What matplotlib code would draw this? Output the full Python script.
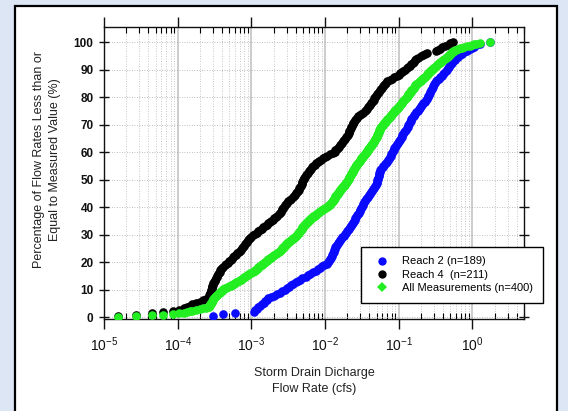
import matplotlib
matplotlib.use('Agg')
import matplotlib.pyplot as plt
import numpy as np
from matplotlib.lines import Line2D
from matplotlib.patches import Rectangle
from matplotlib.ticker import LogLocator, NullFormatter, LogFormatterSciNotation

plt.rcParams['font.family'] = ['Liberation Sans', 'DejaVu Sans']
plt.rcParams['mathtext.fontset'] = 'custom'
plt.rcParams['mathtext.rm'] = 'Liberation Sans:bold'
plt.rcParams['mathtext.it'] = 'Liberation Sans:bold'
plt.rcParams['mathtext.bf'] = 'Liberation Sans:bold'

# log10 of storm drain discharge (cfs), sorted, one value per measurement
reach2_logq = [
    -3.52, -3.38, -3.22, -2.97, -2.95, -2.93, -2.91, -2.88, -2.85, -2.83, -2.81, -2.79, -2.77,
    -2.73, -2.69, -2.65, -2.61, -2.58, -2.55, -2.52, -2.49, -2.46, -2.43, -2.40,
    -2.37, -2.34, -2.31, -2.26, -2.23, -2.21, -2.17, -2.13, -2.10,
    -2.07, -2.04, -2.01, -1.98, -1.96, -1.945, -1.93,
    -1.92, -1.91, -1.90, -1.89, -1.885, -1.88, -1.87,
    -1.86, -1.85, -1.84, -1.83, -1.815, -1.80,
    -1.78, -1.765, -1.75, -1.73, -1.71,
    -1.70, -1.69, -1.675, -1.66, -1.645, -1.63, -1.62,
    -1.61, -1.60, -1.59, -1.58, -1.565, -1.55,
    -1.54, -1.53, -1.52, -1.51, -1.50, -1.49, -1.48,
    -1.47, -1.455, -1.44, -1.43, -1.415, -1.40, -1.39,
    -1.38, -1.365, -1.35, -1.34, -1.325, -1.31, -1.30,
    -1.295, -1.29, -1.285, -1.28, -1.275, -1.27, -1.265, -1.26, -1.255,
    -1.24, -1.22, -1.21, -1.19, -1.18, -1.16, -1.15, -1.135, -1.12,
    -1.11, -1.10, -1.09, -1.08, -1.07, -1.06, -1.05, -1.04, -1.03, -1.01, -1.00, -0.98,
    -0.97, -0.96, -0.95, -0.94, -0.925, -0.91, -0.90, -0.89, -0.88, -0.87, -0.86, -0.85,
    -0.84, -0.83, -0.815, -0.80,
    -0.79, -0.775, -0.76, -0.745, -0.73, -0.71,
    -0.70, -0.685, -0.67, -0.65, -0.635, -0.62,
    -0.61, -0.60, -0.59, -0.58, -0.57, -0.56, -0.55, -0.54, -0.53,
    -0.52, -0.505, -0.49, -0.475, -0.46, -0.44,
    -0.42, -0.40, -0.38, -0.36, -0.35,
    -0.33, -0.32, -0.30, -0.29, -0.275, -0.26,
    -0.24, -0.22, -0.20, -0.17, -0.14, -0.11, -0.08,
    -0.04, -0.01, 0.02, 0.05, 0.10, 0.24,
]

reach4_logq = [
    -4.81, -4.56, -4.35, -4.20, -4.06, -3.98, -3.92, -3.87, -3.83, -3.80,
    -3.75, -3.70, -3.66, -3.61, -3.58,
    -3.575, -3.57, -3.565, -3.56, -3.55, -3.545,
    -3.54, -3.535, -3.53, -3.525, -3.52,
    -3.51, -3.50, -3.49, -3.48, -3.47,
    -3.46, -3.45, -3.44, -3.43, -3.42, -3.41, -3.395, -3.38,
    -3.36, -3.34, -3.32, -3.30, -3.28, -3.265, -3.25,
    -3.23, -3.21, -3.19, -3.17, -3.16, -3.14, -3.125, -3.11,
    -3.10, -3.085, -3.07, -3.06, -3.045, -3.03, -3.02,
    -3.00, -2.975, -2.95, -2.93,
    -2.91, -2.885, -2.86, -2.84, -2.815, -2.79,
    -2.77, -2.75, -2.73, -2.71, -2.69, -2.67, -2.65, -2.63, -2.61,
    -2.60, -2.59, -2.58, -2.57, -2.56, -2.545, -2.53, -2.52,
    -2.50, -2.48, -2.46, -2.44, -2.42, -2.405, -2.39,
    -2.38, -2.37, -2.36, -2.35, -2.34, -2.33, -2.32, -2.315, -2.31, -2.30,
    -2.29, -2.28, -2.27, -2.26, -2.25, -2.235, -2.22,
    -2.21, -2.195, -2.18, -2.16,
    -2.14, -2.12, -2.10, -2.08,
    -2.06, -2.03, -2.00, -1.97, -1.93, -1.89,
    -1.87, -1.86, -1.84, -1.83, -1.815, -1.80,
    -1.79, -1.775, -1.76, -1.745, -1.73, -1.71,
    -1.70, -1.69, -1.68, -1.675, -1.67, -1.66, -1.65, -1.645, -1.635, -1.625, -1.62,
    -1.61, -1.595, -1.58, -1.565, -1.55,
    -1.53, -1.51, -1.49, -1.465, -1.44,
    -1.43, -1.415, -1.40, -1.39, -1.375, -1.36, -1.35,
    -1.34, -1.33, -1.32, -1.31, -1.30, -1.285, -1.27, -1.26,
    -1.245, -1.23, -1.215, -1.20, -1.185, -1.17, -1.16,
    -1.12, -1.09, -1.07,
    -1.03, -1.00, -0.98,
    -0.96, -0.94, -0.915, -0.89, -0.87, -0.85,
    -0.83, -0.81, -0.80, -0.78, -0.77,
    -0.74, -0.70, -0.67,
    -0.64, -0.62, -0.50,
    -0.47, -0.44, -0.41,
    -0.37, -0.33, -0.30, -0.26,
]

series_labels = ['Reach 2 (n=189)', 'Reach 4  (n=211)', 'All Measurements (n=400)']
y_ticks = list(range(0, 101, 10))

q2 = np.sort(10 ** np.array(reach2_logq))
q4 = np.sort(10 ** np.array(reach4_logq))
q_all = np.sort(np.concatenate([q2, q4]))


def cum_pct(q):
    # percent of measurements less than or equal to each value
    return np.arange(1, len(q) + 1) / len(q) * 100


W, H = 568, 411
fig = plt.figure(figsize=(W / 100, H / 100), dpi=100)
fig.patch.set_facecolor('#dce6f4')

# white panel with black border
fig.add_artist(Rectangle((15 / W, -0.05), (557 - 15) / W, 1 - 6 / H + 0.05,
                         transform=fig.transFigure, fc='white', ec='black', lw=1.6, zorder=-5))

ax = fig.add_axes([104 / W, 1 - 318.5 / H, 420 / W, (318.5 - 27) / H])

ms = 6.2
ax.plot(q2, cum_pct(q2), 'o', color='#0a0aff', ms=ms, mew=0, zorder=3)
ax.plot(q4, cum_pct(q4), 'o', color='black', ms=ms, mew=0, zorder=4)
ax.plot(q_all, cum_pct(q_all), 'o', color='#22ee22', ms=ms, mew=0, zorder=5)

ax.set_xscale('log')
ax.set_xlim(1e-5, 5)
ax.set_ylim(-0.4, 105.5)
ax.set_yticks(y_ticks)
ax.xaxis.set_major_locator(LogLocator(base=10, numticks=10))
ax.xaxis.set_minor_locator(LogLocator(base=10, subs=np.arange(2, 10), numticks=20))
ax.xaxis.set_major_formatter(LogFormatterSciNotation())
ax.xaxis.set_minor_formatter(NullFormatter())

ax.grid(which='major', axis='x', color='#c8c8c8', lw=1.3, ls='-', zorder=0)
ax.grid(which='minor', axis='x', color='#b4b4b4', lw=0.6, ls=(0, (1, 2)), zorder=0)
ax.grid(which='major', axis='y', color='#a8a8a8', lw=0.6, ls=(0, (1, 2)), zorder=0)
ax.set_axisbelow(True)

for s in ax.spines.values():
    s.set_linewidth(1.0)
    s.set_color('#111111')

ax.tick_params(axis='x', which='major', direction='out', length=7, width=1.0,
               top=True, bottom=True, pad=5, labelsize=10, colors='#111111')
ax.tick_params(axis='x', which='minor', direction='in', length=4, width=0.8,
               top=True, bottom=True)
ax.tick_params(axis='y', which='major', direction='inout', length=7, width=1.0,
               left=True, right=True, pad=4, labelsize=8.5, colors='#111111')
for lab in ax.get_yticklabels():
    lab.set_fontweight('bold')

fig.text(314 / W, 1 - 381 / H, 'Storm Drain Dicharge\nFlow Rate (cfs)',
         ha='center', va='center', fontsize=9, color='#222222', linespacing=1.35)
fig.text(47 / W, 1 - 160 / H,
         'Percentage of Flow Rates Less than or\nEqual to Measured Value (%)',
         ha='center', va='center', rotation=90, fontsize=9, color='#222222',
         multialignment='center', linespacing=1.45)

handles = [
    Line2D([], [], ls='none', marker='o', color='#0a0aff', ms=6, mew=0),
    Line2D([], [], ls='none', marker='o', color='black', ms=6, mew=0),
    Line2D([], [], ls='none', marker='D', color='#22ee22', ms=5, mew=0),
]
leg = ax.legend(handles, series_labels, loc='upper left',
                bbox_to_anchor=(361 / W, 1 - 247 / H), bbox_transform=fig.transFigure,
                borderaxespad=0, fontsize=8, fancybox=False, framealpha=1,
                edgecolor='black', borderpad=0.85, labelspacing=0.3,
                handlelength=2.1, handletextpad=0.75)
leg.get_frame().set_linewidth(1.0)
leg.set_zorder(10)

fig.savefig('out.png', dpi=100, facecolor=fig.get_facecolor())
